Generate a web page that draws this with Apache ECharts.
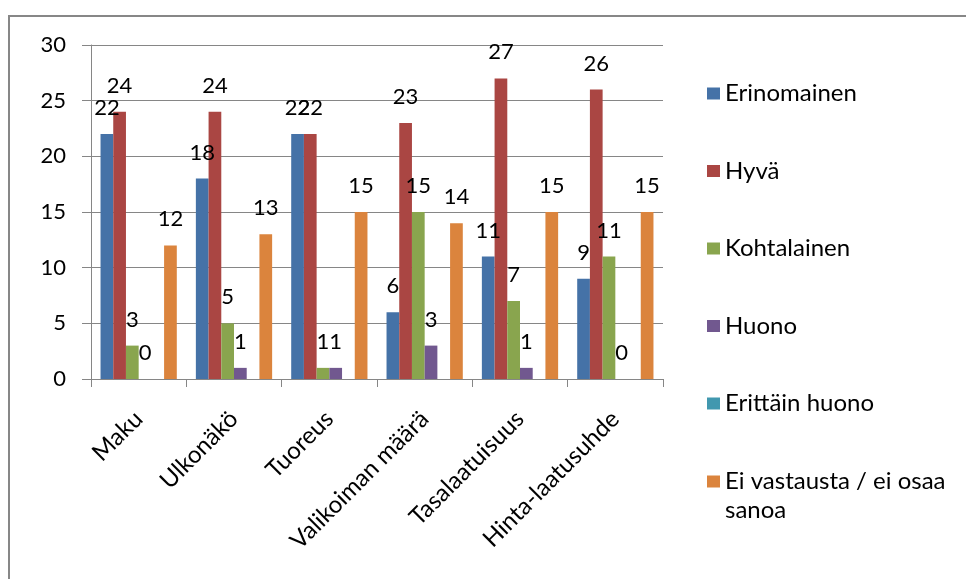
<!DOCTYPE html>
<html>
<head>
<meta charset="utf-8">
<script src="https://cdn.jsdelivr.net/npm/echarts@6/dist/echarts.min.js"></script>
<style>
html,body{margin:0;padding:0;background:#fff;}
#chart{width:966px;height:579px;}
</style>
</head>
<body>
<div id="chart"></div>
<script>
var categories = ['Maku', 'Ulkonäkö', 'Tuoreus', 'Valikoiman määrä', 'Tasalaatuisuus', 'Hinta-laatusuhde'];
var seriesNames = ['Erinomainen', 'Hyvä', 'Kohtalainen', 'Huono', 'Erittäin huono', 'Ei vastausta / ei osaa sanoa'];
var erinomainen = [22, 18, 22, 6, 11, 9];
var hyva = [24, 24, 22, 23, 27, 26];
var kohtalainen = [3, 5, 1, 15, 7, 11];
var huono = [0, 1, 1, 3, 1, 0];
var erittainHuono = [null, null, null, null, null, null];
var eiVastausta = [12, 13, 15, 14, 15, 15];
var yTicks = [0, 5, 10, 15, 20, 25, 30];

var colors = ['#4572A7', '#AA4643', '#89A54E', '#71588F', '#4198AF', '#DB843D'];
var values = [erinomainen, hyva, kohtalainen, huono, erittainHuono, eiVastausta];
var FONT = 'Lato';
var GRID = '#868686';

var chart = echarts.init(document.getElementById('chart'), null, {renderer: 'canvas'});

var series = seriesNames.map(function (n, i) {
  return {
    name: n,
    type: 'bar',
    data: values[i],
    barGap: '0%',
    barCategoryGap: '20%',
    itemStyle: {color: colors[i]},
    label: {
      show: true,
      position: 'top',
      distance: 15,
      color: '#000',
      fontFamily: FONT,
      fontSize: 22
    }
  };
});

chart.setOption({
  animation: false,
  backgroundColor: '#fff',
  color: colors,
  graphic: [{
    type: 'rect',
    z: -10,
    shape: {x: 9, y: 16, width: 1100, height: 800},
    style: {fill: null, stroke: '#878787', lineWidth: 2}
  }],
  grid: {left: 91, right: 303, top: 45, bottom: 200, containLabel: false},
  legend: [{
    orient: 'vertical',
    left: 707,
    top: 79,
    padding: 0,
    itemWidth: 13,
    itemHeight: 12,
    itemGap: 48.5,
    icon: 'rect',
    data: seriesNames.slice(0, 5),
    textStyle: {
      fontFamily: FONT,
      fontSize: 24,
      lineHeight: 29,
      color: '#000'
    }
  }, {
    orient: 'vertical',
    left: 707,
    top: 438,
    padding: 0,
    itemWidth: 13,
    itemHeight: 12,
    icon: 'rect',
    data: seriesNames.slice(5),
    formatter: function (name) { return '\n' + name; },
    textStyle: {
      fontFamily: FONT,
      fontSize: 24,
      lineHeight: 29,
      color: '#000',
      width: 232,
      overflow: 'break'
    }
  }],
  xAxis: {
    type: 'category',
    data: categories,
    axisLine: {lineStyle: {color: GRID, width: 1}},
    axisTick: {show: true, interval: 0, length: 8, lineStyle: {color: GRID}},
    axisLabel: {
      interval: 0,
      rotate: 45,
      margin: 36,
      color: '#000',
      fontFamily: FONT,
      fontSize: 24
    }
  },
  yAxis: {
    type: 'value',
    min: yTicks[0],
    max: yTicks[yTicks.length - 1],
    interval: yTicks[1] - yTicks[0],
    axisLine: {show: true, lineStyle: {color: GRID, width: 1}},
    axisTick: {show: true, length: 9, lineStyle: {color: GRID}},
    splitLine: {show: true, lineStyle: {color: GRID, width: 1}},
    axisLabel: {
      margin: 25,
      color: '#000',
      fontFamily: FONT,
      fontSize: 22
    }
  },
  series: series
});
</script>
</body>
</html>
